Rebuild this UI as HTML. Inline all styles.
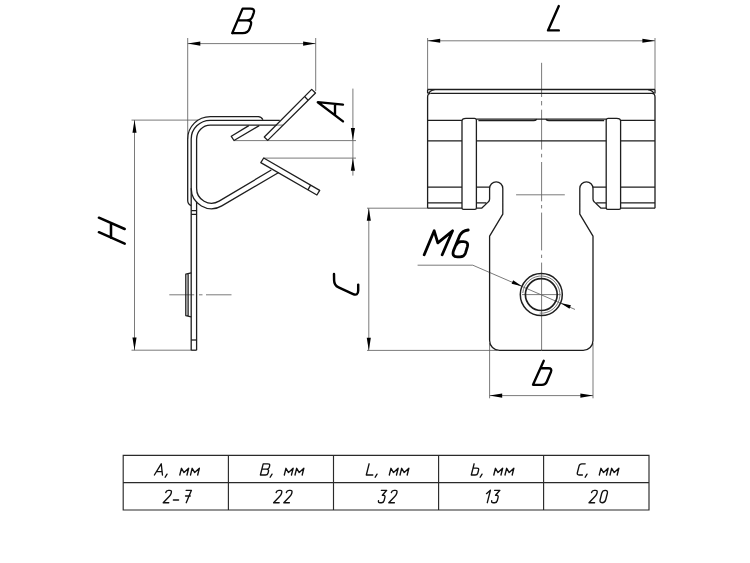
<!DOCTYPE html>
<html lang="ru">
<head>
<meta charset="utf-8">
<title>Drawing</title>
<style>
html,body{margin:0;padding:0;background:#fff;}
body{width:750px;height:563px;overflow:hidden;font-family:"Liberation Sans",sans-serif;}
svg{display:block;}
</style>
</head>
<body>
<svg width="750" height="563" viewBox="0 0 750 563">
<rect width="750" height="563" fill="#ffffff"/>
<g fill="none" stroke="#626262" stroke-width="0.85">
<path d="M187.7,38 L187.7,139"/>
<path d="M315.7,38 L315.7,91"/>
<path d="M187.7,43.6 L315.7,43.6"/>
<path d="M131.5,120.1 L198,120.1"/>
<path d="M131.5,350.2 L191.2,350.2"/>
<path d="M134.5,120.1 L134.5,350.2"/>
<path d="M234,140.6 L356,140.6"/>
<path d="M264,158.1 L356,158.1"/>
<path d="M352.9,88.6 L352.9,175.6"/>
<path d="M276.8,125.1 L283,125.1"/>
<path d="M169.3,294.8 L194.2,294.8 M199,294.8 L202.5,294.8 M206,294.8 L231.5,294.8"/>
<path d="M522.77,292.98 A18.6,18.6 0 1 1 539.68,313.13"/>
<path d="M522,294.6 L560.7,294.6"/>
<path d="M541.5999999999999,62.8 V97 M541.5999999999999,101 V105.4 M541.5999999999999,109.7 V149.6 M541.5999999999999,153.8 V157.4 M541.5999999999999,162 V201.3 M541.5999999999999,205 V208.4 M541.5999999999999,212.6 V250.4 M541.5999999999999,254.7 V258 M541.5999999999999,262.6 V350.4"/>
<path d="M516.1,194.8 L564.8,194.8"/>
<path d="M427.6,38 L427.6,89.5 M654.9999999999999,38 L654.9999999999999,89.5 M427.6,40.8 L654.9999999999999,40.8"/>
<path d="M367,208.2 L427.6,208.2 M367,350.4 L497.6,350.4 M368.8,208.2 L368.8,350.4"/>
<path d="M489.6,343 L489.6,398.3 M592.9999999999999,343 L592.9999999999999,398.3 M489.6,395.6 L592.9999999999999,395.6"/>
<path d="M417.6,265.2 L472.8,265.2 L575,309.45"/>
</g>
<g fill="none" stroke="#1e1e1e" stroke-width="1.3" stroke-linejoin="round" stroke-linecap="butt">
<path d="M262.9,119.8 Q261.5,116.6 258.3,116.6 L210.3,116.6 A22.6,22.4 0 0 0 187.7,139.0 L187.7,200.5 Q187.7,204 191.2,205.6"/>
<path d="M279.8,120.3 L210.3,120.3 A19.1,18.7 0 0 0 191.2,139.0 L191.2,350.2"/>
<path d="M276.8,125.1 L210.3,125.1 A13.8,13.9 0 0 0 196.6,139.0 L196.6,188.3 A14.9,14.9 0 0 0 219.09,201.18 L271.3,170.0"/>
<path d="M191.2,188.3 A20.3,20.3 0 0 0 221.81,205.84 L278.7,172.5"/>
<path d="M196.6,201.6 L196.6,350.2"/>
<path d="M191.2,350.2 L196.6,350.2"/>
<path d="M191.2,340 L196.6,340"/>
<path d="M191.2,210.7 L196.6,210.7 M191.2,214.4 L196.6,214.4"/>
<path d="M191.2,272.8 L185.8,274.2 L185.8,315.6 L191.2,316.8 M188.1,273.8 L188.1,316.0"/>
<path d="M264.3,137 L311.7,89.4 L315.5,93.0 L267.7,140.4 Z M304.6,96.5 L308.0,100.1"/>
<path d="M248.8,125.6 L231.3,136.3 L234,140.5 L259.2,125.6"/>
<path d="M263.7,158 L319.7,190.4 L316.9,195 L260.8,162.6 Z M310.4,185.4 L308.1,189.6"/>
<path d="M427.6,89.5 L654.9999999999999,89.5"/>
<path d="M430.6,93.4 L651.9999999999999,93.4"/>
<path d="M427.6,89.5 L427.6,93.4 M430.6,93.4 Q427.6,93.6 427.6,97.0 L427.6,208.2 M434.6,89.6 Q430.20000000000005,90.2 428.5,93.6"/>
<path d="M654.9999999999999,89.5 L654.9999999999999,93.4 M651.9999999999999,93.4 Q654.9999999999999,93.6 654.9999999999999,97.0 L654.9999999999999,208.2 M647.9999999999999,89.6 Q652.3999999999999,90.2 654.0999999999999,93.6"/>
<path d="M462.0,121.0 Q462.0,118.3 466.0,118.3 L474.4,118.3 Q476.4,118.4 476.4,120.2 L476.4,208 Q476.4,209.3 474.9,209.3 L463.5,209.3 Q462.0,209.3 462.0,208 Z"/>
<path d="M620.5999999999999,121.0 Q620.5999999999999,118.3 616.5999999999999,118.3 L608.1999999999999,118.3 Q606.1999999999999,118.4 606.1999999999999,120.2 L606.1999999999999,208 Q606.1999999999999,209.3 607.6999999999999,209.3 L619.0999999999999,209.3 Q620.5999999999999,209.3 620.5999999999999,208 Z"/>
<path d="M427.6,120.3 L462.0,120.3 M427.6,140.9 L462.0,140.9 M427.6,187.2 L462.0,187.2 M427.6,202.8 L462.0,202.8 M427.6,208.2 L462.0,208.2"/>
<path d="M654.9999999999999,120.3 L620.5999999999999,120.3 M654.9999999999999,140.9 L620.5999999999999,140.9 M654.9999999999999,187.2 L620.5999999999999,187.2 M654.9999999999999,202.8 L620.5999999999999,202.8 M654.9999999999999,208.2 L620.5999999999999,208.2"/>
<path d="M476.4,119.1 L606.1999999999999,119.1"/>
<path d="M478.4,120.6 L533.6,120.6 Q535.5,120.5 536.8,119.2"/>
<path d="M604.1999999999999,120.6 L548.9999999999999,120.6 Q547.0999999999999,120.5 545.8,119.2"/>
<path d="M476.4,140.9 L606.1999999999999,140.9"/>
<path d="M476.4,187.2 L489.6,187.2 M476.4,202.8 L486.3,202.8 M476.4,208.2 L481.6,208.2 L488.3,201.9 Q489.6,200.8 489.6,199.0 L489.6,188.4 A6.6,6.6 0 0 1 502.8,188.4 L502.8,214.2 L489.6,236.2 L489.6,340.6 A9.8,9.8 0 0 0 499.40000000000003,350.4 L541.3,350.4"/>
<path d="M606.1999999999999,187.2 L592.9999999999999,187.2 M606.1999999999999,202.8 L596.3,202.8 M606.1999999999999,208.2 L600.9999999999999,208.2 L594.3,201.9 Q592.9999999999999,200.8 592.9999999999999,199.0 L592.9999999999999,188.4 A6.6,6.6 0 0 0 579.8,188.4 L579.8,214.2 L592.9999999999999,236.2 L592.9999999999999,340.6 A9.8,9.8 0 0 1 583.1999999999998,350.4 L541.3,350.4"/>
</g>
<circle cx="541.3" cy="294.6" r="21.0" fill="none" stroke="#1e1e1e" stroke-width="1.5"/><circle cx="541.3" cy="294.6" r="15.9" fill="none" stroke="#1e1e1e" stroke-width="1.7"/>
<g fill="#000" stroke="none">
<path d="M187.70,43.60 L200.30,41.55 L200.30,45.65 Z"/>
<path d="M315.70,43.60 L303.10,45.65 L303.10,41.55 Z"/>
<path d="M134.50,120.10 L136.55,132.70 L132.45,132.70 Z"/>
<path d="M134.50,350.20 L132.45,337.60 L136.55,337.60 Z"/>
<path d="M352.90,140.60 L350.85,128.00 L354.95,128.00 Z"/>
<path d="M352.90,158.10 L354.95,170.70 L350.85,170.70 Z"/>
<path d="M427.60,40.80 L440.20,38.75 L440.20,42.85 Z"/>
<path d="M655.00,40.80 L642.40,42.85 L642.40,38.75 Z"/>
<path d="M368.80,208.20 L370.85,220.80 L366.75,220.80 Z"/>
<path d="M368.80,350.40 L366.75,337.80 L370.85,337.80 Z"/>
<path d="M489.60,395.60 L502.20,393.55 L502.20,397.65 Z"/>
<path d="M593.00,395.60 L580.40,397.65 L580.40,393.55 Z"/>
<path d="M522.03,286.26 L511.64,283.83 L513.15,280.34 Z"/>
<path d="M560.57,302.94 L570.96,305.37 L569.45,308.86 Z"/>
</g>
<g fill="none" stroke="#000" stroke-linecap="round" stroke-linejoin="round">
<path d="M232.2,33.2 L242.6,8.6 L250.3,8.6 Q255,8.6 253.8,12.6 L252.3,16.8 Q251,20.3 246.6,20.3 L237.7,20.3 M246.6,20.3 Q252.2,20.3 251,24.4 L249.6,28.6 Q248,33.2 242.6,33.2 L232.2,33.2" stroke-width="2.3"/>
<path d="M98.9,217.7 L124.7,229 M98.9,232.2 L124.7,243.7 M111,223.2 L111,237.8" stroke-width="2.55"/>
<path d="M343,121.4 L317.8,102.2 L343,104.6 M335,104 L335,115.2" stroke-width="2.35"/>
<path d="M558.8,6 L548,30.4 L558.8,30.4" stroke-width="2.4"/>
<path d="M334,274.0 L334.1,280.2 Q334.2,285.4 338.6,287.4 L352.6,293.8 Q358.2,296.4 358.2,290.6 L358.2,284.6" stroke-width="2.45"/>
<path d="M543.8,360.8 L533,384.8 L541.8,384.8 Q545.6,384.8 547,381.2 L550.9,372 Q552.4,368.2 548.4,368.2 L540.6,368.2" stroke-width="2.35"/>
<path d="M424.2,254.8 L434.2,230.8 L437.8,242.8 L452.6,230.8 L442.2,254.8" stroke-width="2.8"/>
<path d="M468.2,230 Q462,231 459.8,235.4 L453.6,250.4 Q451.4,256.8 457.4,256.8 L460,256.8 Q464.2,256.8 465.6,252.6 L467.4,246.6 Q468.6,241.6 463.6,241.6 L461,241.6 Q457.6,241.8 456.2,245" stroke-width="2.8"/>
</g>
<path d="M123.2,455.35 H649.0 V509.95 H123.2 Z M123.2,482.6 H649.0 M228.4,455.35 V509.95 M333.5,455.35 V509.95 M438.6,455.35 V509.95 M543.6,455.35 V509.95" fill="none" stroke="#2a2a2a" stroke-width="1.15"/>
<g fill="none" stroke="#111" stroke-width="1.35" stroke-linecap="round" stroke-linejoin="round">
<path d="M 154.40,475.00 L 161.23,463.80 L 162.46,475.00 M 156.58,471.64 L 162.18,471.64"/>
<path d="M 167.04,474.10 L 165.14,477.24"/>
<path d="M 179.80,475.00 L 181.48,468.28 L 184.00,472.54 L 188.65,468.28 L 186.97,475.00"/>
<path d="M 190.50,475.00 L 192.18,468.28 L 194.70,472.54 L 199.35,468.28 L 197.67,475.00"/>
<path d="M 260.40,475.00 L 263.20,463.80 L 267.90,463.80 Q 270.14,463.80 269.67,465.70 L 269.25,467.38 Q 268.80,469.18 266.56,469.18 L 261.86,469.18 M 266.56,469.18 Q 269.02,469.18 268.52,471.19 L 268.07,472.98 Q 267.57,475.00 265.33,475.00 L 260.40,475.00"/>
<path d="M 272.04,474.10 L 270.14,477.24"/>
<path d="M 284.30,475.00 L 285.98,468.28 L 288.50,472.54 L 293.15,468.28 L 291.47,475.00"/>
<path d="M 295.00,475.00 L 296.68,468.28 L 299.20,472.54 L 303.85,468.28 L 302.17,475.00"/>
<path d="M 369.10,463.80 L 366.30,475.00 L 372.80,475.00"/>
<path d="M 377.04,474.10 L 375.14,477.24"/>
<path d="M 389.30,475.00 L 390.98,468.28 L 393.50,472.54 L 398.15,468.28 L 396.47,475.00"/>
<path d="M 400.00,475.00 L 401.68,468.28 L 404.20,472.54 L 408.85,468.28 L 407.17,475.00"/>
<path d="M 474.10,463.80 L 471.30,475.00 L 475.11,475.00 Q 477.35,475.00 477.85,472.98 L 478.61,469.96 Q 479.08,468.06 476.84,468.06 L 473.04,468.06"/>
<path d="M 482.04,474.10 L 480.14,477.24"/>
<path d="M 493.80,475.00 L 495.48,468.28 L 498.00,472.54 L 502.65,468.28 L 500.97,475.00"/>
<path d="M 505.00,475.00 L 506.68,468.28 L 509.20,472.54 L 513.85,468.28 L 512.17,475.00"/>
<path d="M 585.20,463.80 L 581.84,463.80 Q 579.60,463.80 579.04,466.04 L 577.36,472.76 Q 576.80,475.00 579.04,475.00 L 582.40,475.00"/>
<path d="M 587.04,474.10 L 585.14,477.24"/>
<path d="M 599.30,475.00 L 600.98,468.28 L 603.50,472.54 L 608.15,468.28 L 606.47,475.00"/>
<path d="M 610.00,475.00 L 611.68,468.28 L 614.20,472.54 L 618.85,468.28 L 617.17,475.00"/>
<path d="M 165.74,492.53 Q 166.30,490.30 168.41,490.30 L 169.77,490.30 Q 171.88,490.30 171.32,492.53 L 171.07,493.52 Q 170.70,495.01 169.40,496.25 L 163.20,502.70 L 168.78,502.70"/>
<path d="M 173.38,499.97 L 178.59,499.97"/>
<path d="M 186.10,490.30 L 191.43,490.30 L 186.22,502.70 M 185.54,496.00 L 190.25,496.00"/>
<path d="M 276.14,492.53 Q 276.70,490.30 278.81,490.30 L 280.17,490.30 Q 282.28,490.30 281.72,492.53 L 281.47,493.52 Q 281.10,495.01 279.80,496.25 L 273.60,502.70 L 279.18,502.70"/>
<path d="M 286.34,492.53 Q 286.90,490.30 289.01,490.30 L 290.37,490.30 Q 292.48,490.30 291.92,492.53 L 291.67,493.52 Q 291.30,495.01 290.00,496.25 L 283.80,502.70 L 289.38,502.70"/>
<path d="M 381.35,490.30 L 386.68,490.30 L 382.34,495.26 L 383.33,495.26 Q 385.44,495.26 384.91,497.37 L 384.14,500.47 Q 383.58,502.70 381.47,502.70 L 380.11,502.70 Q 378.00,502.70 378.50,500.72"/>
<path d="M 391.34,492.53 Q 391.90,490.30 394.01,490.30 L 395.37,490.30 Q 397.48,490.30 396.92,492.53 L 396.67,493.52 Q 396.30,495.01 395.00,496.25 L 388.80,502.70 L 394.38,502.70"/>
<path d="M 486.46,493.65 L 490.40,490.30 L 487.30,502.70"/>
<path d="M 494.55,490.30 L 499.88,490.30 L 495.54,495.26 L 496.53,495.26 Q 498.64,495.26 498.11,497.37 L 497.34,500.47 Q 496.78,502.70 494.67,502.70 L 493.31,502.70 Q 491.20,502.70 491.70,500.72"/>
<path d="M 591.54,492.53 Q 592.10,490.30 594.21,490.30 L 595.57,490.30 Q 597.68,490.30 597.12,492.53 L 596.87,493.52 Q 596.50,495.01 595.20,496.25 L 589.00,502.70 L 594.58,502.70"/>
<path d="M 605.29,490.30 Q 608.08,490.30 607.34,493.28 L 605.72,499.72 Q 604.98,502.70 602.19,502.70 Q 599.40,502.70 600.14,499.72 L 601.76,493.28 Q 602.50,490.30 605.29,490.30 Z"/>
</g>
</svg>
</body>
</html>
